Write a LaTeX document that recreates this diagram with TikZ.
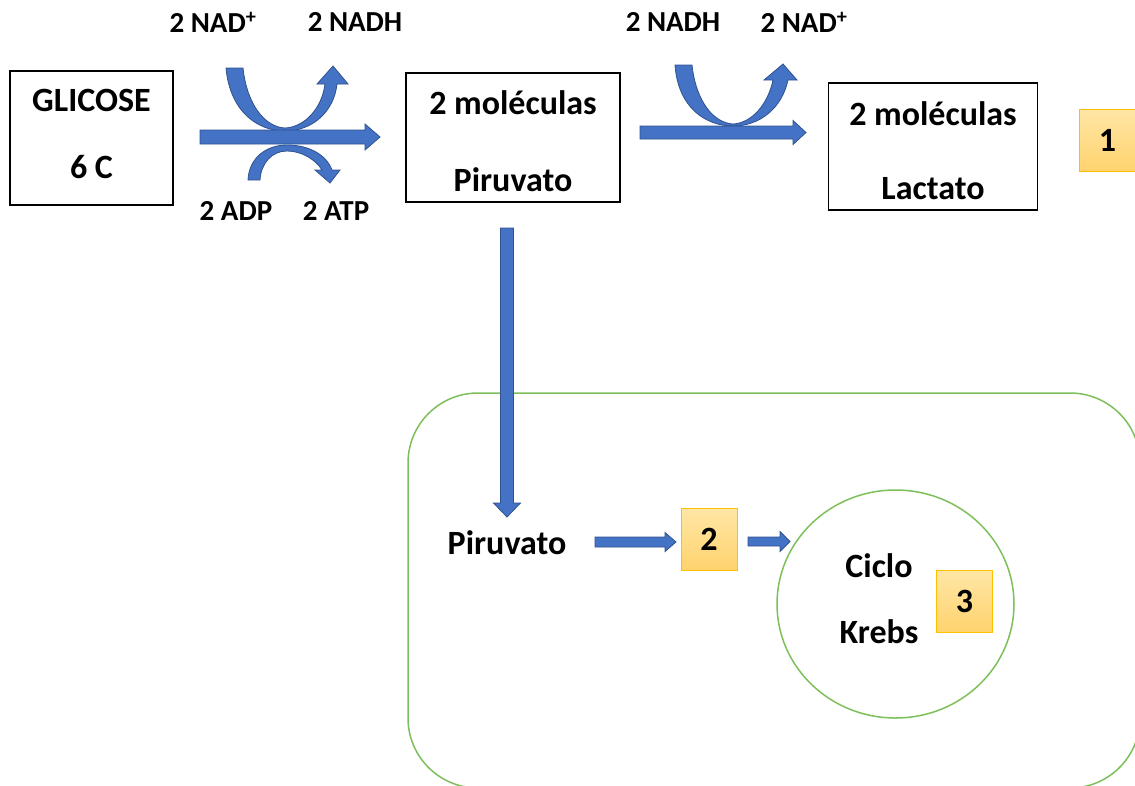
\documentclass[tikz,border=0pt]{standalone}
\usepackage{fontspec}
\setmainfont{Carlito}
\usetikzlibrary{positioning}
\definecolor{arrblue}{HTML}{4472C4}
\definecolor{arrdark}{HTML}{2F528F}
\definecolor{boxgold}{HTML}{FFC000}
\definecolor{goldtop}{HTML}{FFE6A6}
\definecolor{goldbot}{HTML}{FFD36E}
\definecolor{cellgreen}{HTML}{7DBF5A}
\tikzset{
  bsh/.store in=\bsh, bhh/.store in=\bhh, bhl/.store in=\bhl,
  bsh=7pt, bhh=13pt, bhl=15pt,
  blockfill/.style={fill=arrblue, draw=arrdark, line width=0.8pt, line join=miter},
  harrow/.style={blockfill, to path={
    ([yshift=\bsh]\tikztostart) -- ([xshift=-\bhl,yshift=\bsh]\tikztotarget)
    -- ([xshift=-\bhl,yshift=\bhh]\tikztotarget) -- (\tikztotarget)
    -- ([xshift=-\bhl,yshift=-\bhh]\tikztotarget) -- ([xshift=-\bhl,yshift=-\bsh]\tikztotarget)
    -- ([yshift=-\bsh]\tikztostart) -- cycle}},
  varrow/.style={blockfill, to path={
    ([xshift=-\bsh]\tikztostart) -- ([xshift=-\bsh,yshift=\bhl]\tikztotarget)
    -- ([xshift=-\bhh,yshift=\bhl]\tikztotarget) -- (\tikztotarget)
    -- ([xshift=\bhh,yshift=\bhl]\tikztotarget) -- ([xshift=\bsh,yshift=\bhl]\tikztotarget)
    -- ([xshift=\bsh]\tikztostart) -- cycle}},
  molbox/.style={draw, line width=1.2pt, align=center, inner sep=0pt,
    font=\fontsize{34}{41}\selectfont\bfseries},
  numbox/.style={draw=boxgold, line width=1pt, top color=goldtop, bottom color=goldbot,
    minimum width=56pt, minimum height=62pt, inner sep=0pt, font=\fontsize{34}{40}\selectfont\bfseries},
  lbl/.style={font=\fontsize{29}{35}\selectfont\bfseries, inner sep=0pt},
  big/.style={font=\fontsize{34}{41}\selectfont\bfseries, inner sep=0pt}
}
\begin{document}
\begin{tikzpicture}[x=1pt,y=-1pt]
\useasboundingbox (0,0) rectangle (1135,785);
% boxes
\draw[line width=1.2pt] (10,71) rectangle (173,205);
\node[molbox, draw=none] (glic) at (91.5,134) {GLICOSE\\[26pt]6 C};
\draw[line width=1.2pt] (406,73) rectangle (620,202);
\node[molbox, draw=none] (piru) at (513,141) {2 moléculas\\[36pt]Piruvato};
\draw[line width=1.2pt] (828.5,83) rectangle (1037.5,210);
\node[molbox, draw=none] (lact) at (933,150.5) {2 moléculas\\[33pt]Lactato};
% mitochondria
\draw[cellgreen, line width=1.5pt, rounded corners=70pt] (408,393) rectangle (1140,788);
\draw[cellgreen, line width=1.5pt] (895.5,604) ellipse [x radius=118.5, y radius=114];
\node[big] (piru2) at (507,543) {Piruvato};
\node[big] (ciclo) at (879,566) {Ciclo};
\node[big] (krebs) at (879,632) {Krebs};
% numbers
\node[numbox] (n1) at (1107.5,140) {1};
\node[numbox] (n2) at (709,539) {2};
\node[numbox] (n3) at (964.5,601) {3};
% cofactor labels
\node[lbl] (nadA) at (213,22) {2 NAD\textsuperscript{+}};
\node[lbl] (nadhA) at (355,22) {2 NADH};
\node[lbl] (adp) at (236,211) {2 ADP};
\node[lbl] (atp) at (336,211) {2 ATP};
\node[lbl] (nadhB) at (673,22) {2 NADH};
\node[lbl] (nadB) at (804,22) {2 NAD\textsuperscript{+}};
% curved arrows
\draw[blockfill] (226,68) -- (243,68) .. controls (247,105) and (265,127) .. (285,128)
  .. controls (305,127) and (322,108) .. (325,84) -- (317,84) -- (333,66) -- (348,84) -- (337,84)
  .. controls (334,112) and (312,131) .. (285,131) .. controls (258,131) and (230,112) .. (226,68) -- cycle;
\draw[blockfill] (248,180) .. controls (249,158) and (266,145) .. (287,145)
  .. controls (308,145) and (326,154) .. (332,170) -- (340,170) -- (330,183) -- (315,170) -- (322,170)
  .. controls (316,160) and (302,151) .. (287,151) .. controls (272,151) and (261,163) .. (260,180) -- cycle;
\draw[blockfill] (675,65) -- (692,65) .. controls (696,102) and (714,123) .. (733,124)
  .. controls (752,123) and (768,104) .. (773,80) -- (764,80) -- (783,64) -- (797,80) -- (788,80)
  .. controls (782,108) and (760,126) .. (733,126) .. controls (706,126) and (678,108) .. (675,65) -- cycle;
% straight arrows
\coordinate (g1) at (200,137);
\coordinate (g2) at (380,137);
\coordinate (l1) at (640,132.5);
\coordinate (l2) at (806,132.5);
\coordinate (v1) at (507,228);
\coordinate (v2) at (507,517);
\coordinate (s1) at (595,542);
\coordinate (s2) at (676,542);
\coordinate (s3) at (748,541.5);
\coordinate (s4) at (790,541.5);
\draw[harrow] (g1) to (g2);
\draw[harrow, bsh=6.5pt, bhh=12pt, bhl=13pt] (l1) to (l2);
\draw[varrow, bsh=6.5pt, bhh=13.5pt, bhl=14pt] (v1) to (v2);
\draw[harrow, bsh=5pt, bhh=9.5pt, bhl=11pt] (s1) to (s2);
\draw[harrow, bsh=4.5pt, bhh=10pt, bhl=10pt] (s3) to (s4);
\end{tikzpicture}
\end{document}
